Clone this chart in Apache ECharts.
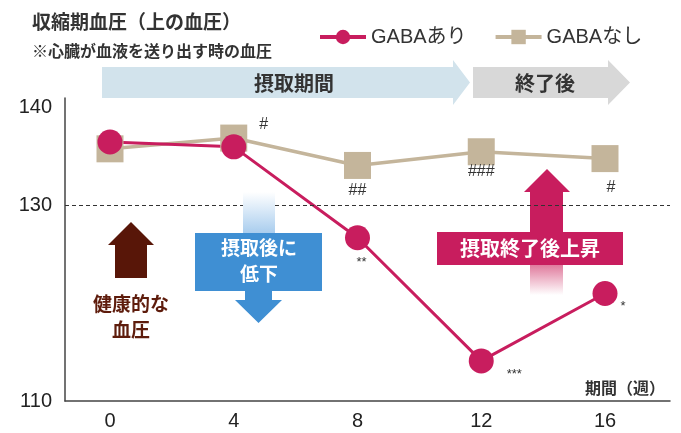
<!DOCTYPE html>
<html>
<head>
<meta charset="utf-8">
<script src="https://cdn.jsdelivr.net/npm/echarts@6/dist/echarts.min.js"></script>
<style>
  html, body { margin: 0; padding: 0; background: #fff; }
  #main { width: 681px; height: 433px; }
</style>
</head>
<body>
<div id="main"></div>
<script>
// 週
var weeks = [0, 4, 8, 12, 16];
// 収縮期血圧
var gabaAri = [136.5, 136.0, 126.7, 114.1, 121.0];
var gabaNashi = [135.8, 136.9, 134.1, 135.5, 134.8];
// 有意差マーク
var ariMarks = ['', '', '**', '***', '*'];
var nashiMarks = ['', '#', '##', '###', '#'];
var yTicks = [110, 130, 140];
var refValue = 130;

var PINK = '#c81d5e';
var TAN = '#c4b59b';
var FONT = '"Noto Sans CJK JP", sans-serif';
var NUMFONT = '"Liberation Sans", "Noto Sans CJK JP", sans-serif';

// マークの位置（スタイル）
var ariOffsets = [[0, 0], [0, 0], [4, 25], [33, 13], [18, 13]];
var nashiOffsets = [[0, 0], [30, -13], [0, 25], [0, 20], [6, 29]];

var buildData = function(values, marks, offsets, size) {
    return values.map(function(v, i) {
        return {
            value: [weeks[i], v],
            label: {
                show: marks[i] !== '',
                formatter: marks[i],
                position: 'inside',
                offset: offsets[i],
                color: '#333',
                fontSize: size,
                fontFamily: NUMFONT
            }
        };
    });
};

var chart = echarts.init(document.getElementById('main'));

var option = {
    animation: false,
    grid: { left: 65, right: 11, top: 98, bottom: 32 },
    legend: {
        data: ['GABAあり', 'GABAなし'],
        left: 313,
        top: 22,
        itemWidth: 46,
        itemHeight: 18,
        itemGap: 27,
        lineStyle: { width: 4 },
        textStyle: { fontSize: 20, color: '#333', fontFamily: NUMFONT }
    },
    xAxis: {
        type: 'value',
        min: -1.4545,
        max: 18.101,
        splitLine: { show: false },
        axisTick: { show: false },
        axisLine: { show: true, onZero: false, lineStyle: { color: '#444', width: 1.5 } },
        axisLabel: {
            customValues: weeks,
            fontSize: 20,
            color: '#222',
            margin: 10,
            fontFamily: NUMFONT
        }
    },
    yAxis: {
        type: 'value',
        min: 110,
        max: 141,
        splitLine: { show: false },
        axisTick: { show: false },
        axisLine: { show: true, onZero: false, lineStyle: { color: '#444', width: 1.5 } },
        axisLabel: {
            customValues: yTicks,
            fontSize: 20,
            color: '#222',
            margin: 13,
            fontFamily: NUMFONT
        }
    },
    series: [{
        name: 'GABAなし',
        type: 'line',
        symbol: 'rect',
        symbolSize: 27,
        color: TAN,
        lineStyle: { width: 3.5, color: TAN },
        itemStyle: { color: TAN },
        data: buildData(gabaNashi, nashiMarks, nashiOffsets, 16),
        markLine: {
            silent: true,
            symbol: 'none',
            label: { show: false },
            lineStyle: { color: '#333', width: 1.2, type: [4, 3] },
            data: [{ yAxis: refValue }]
        }
    }, {
        name: 'GABAあり',
        type: 'line',
        symbol: 'circle',
        symbolSize: 25,
        color: PINK,
        lineStyle: { width: 3, color: PINK },
        itemStyle: { color: PINK },
        data: buildData(gabaAri, ariMarks, ariOffsets, 13),
        z: 3
    }],
    graphic: [
        // タイトル
        { type: 'text', left: 32, top: 12, style: { text: '収縮期血圧（上の血圧）', fontSize: 19, fontWeight: 'bold', fill: '#333', fontFamily: FONT } },
        { type: 'text', left: 32, top: 43, style: { text: '※心臓が血液を送り出す時の血圧', fontSize: 16, fontWeight: 'bold', fill: '#333', fontFamily: FONT } },
        // 摂取期間 / 終了後
        { type: 'polygon', shape: { points: [[102, 67], [453, 67], [453, 60], [470, 82.5], [453, 105], [453, 98], [102, 98]] }, style: { fill: '#d2e3ec' }, z: -1 },
        { type: 'polygon', shape: { points: [[473, 67], [608, 67], [608, 60], [630, 82.5], [608, 105], [608, 98], [473, 98]] }, style: { fill: '#d8d8d8' }, z: -1 },
        { type: 'text', x: 294, y: 83, style: { text: '摂取期間', fontSize: 20, fontWeight: 'bold', fill: '#333', fontFamily: FONT, align: 'center', verticalAlign: 'middle' } },
        { type: 'text', x: 545, y: 83, style: { text: '終了後', fontSize: 20, fontWeight: 'bold', fill: '#333', fontFamily: FONT, align: 'center', verticalAlign: 'middle' } },
        // 健康的な血圧
        { type: 'polygon', shape: { points: [[131, 222], [154, 245], [147, 245], [147, 278], [115, 278], [115, 245], [108, 245]] }, style: { fill: '#581608' } },
        { type: 'text', x: 131, y: 304, style: { text: '健康的な', fontSize: 19, fontWeight: 'bold', fill: '#5e1c0c', fontFamily: FONT, align: 'center', verticalAlign: 'middle' } },
        { type: 'text', x: 131, y: 330, style: { text: '血圧', fontSize: 19, fontWeight: 'bold', fill: '#5e1c0c', fontFamily: FONT, align: 'center', verticalAlign: 'middle' } },
        // 摂取後に低下
        { type: 'rect', shape: { x: 243, y: 192, width: 32, height: 41 }, style: { fill: new echarts.graphic.LinearGradient(0, 0, 0, 1, [{ offset: 0, color: 'rgba(255,255,255,1)' }, { offset: 1, color: '#a9cdee' }]) }, z: 10 },
        { type: 'rect', shape: { x: 195, y: 233, width: 127, height: 58 }, style: { fill: '#3f8fd3' }, z: 10 },
        { type: 'polygon', shape: { points: [[245, 290], [272, 290], [272, 300], [282, 300], [258.5, 323], [235, 300], [245, 300]] }, style: { fill: '#3f8fd3' }, z: 10 },
        { type: 'text', x: 259, y: 248, z: 11, style: { text: '摂取後に', fontSize: 19, fontWeight: 'bold', fill: '#fff', fontFamily: FONT, align: 'center', verticalAlign: 'middle' } },
        { type: 'text', x: 259, y: 274, z: 11, style: { text: '低下', fontSize: 19, fontWeight: 'bold', fill: '#fff', fontFamily: FONT, align: 'center', verticalAlign: 'middle' } },
        // 摂取終了後上昇
        { type: 'polygon', shape: { points: [[547, 169], [570, 192], [563, 192], [563, 233], [530, 233], [530, 192], [524, 192]] }, style: { fill: PINK } },
        { type: 'rect', shape: { x: 437, y: 232, width: 186, height: 33 }, style: { fill: PINK }, z: 10 },
        { type: 'rect', shape: { x: 530, y: 265, width: 33, height: 30 }, style: { fill: new echarts.graphic.LinearGradient(0, 0, 0, 1, [{ offset: 0, color: '#e07b9d' }, { offset: 1, color: 'rgba(255,255,255,1)' }]) } },
        { type: 'text', x: 530, y: 248.5, z: 11, style: { text: '摂取終了後上昇', fontSize: 20, fontWeight: 'bold', fill: '#fff', fontFamily: FONT, align: 'center', verticalAlign: 'middle' } },
        // 期間（週）
        { type: 'text', x: 625, y: 388, style: { text: '期間（週）', fontSize: 16, fontWeight: 'bold', fill: '#333', fontFamily: FONT, align: 'center', verticalAlign: 'middle' } }
    ]
};

chart.setOption(option);
</script>
</body>
</html>
